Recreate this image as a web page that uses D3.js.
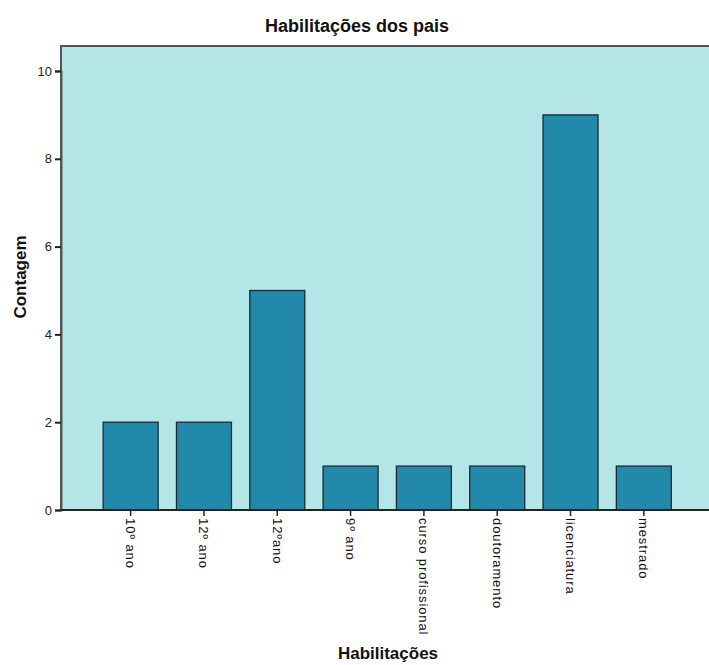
<!DOCTYPE html>
<html><head><meta charset="utf-8">
<script src="https://cdn.jsdelivr.net/npm/d3@7"></script>
<style>body{margin:0;background:#fff}svg{display:block}</style>
</head><body>
<script>
const categories = ["10º ano","12º ano","12ºano","9º ano","curso profissional","doutoramento","licenciatura","mestrado"];
const counts = [2,2,5,1,1,1,9,1];
const yTicks = [0,2,4,6,8,10];
const title = "Habilitações dos pais";
const xTitle = "Habilitações";
const yTitle = "Contagem";

const W = 709, H = 665;
const svg = d3.select("body").append("svg").attr("width", W).attr("height", H)
  .style("font-family","'Liberation Sans', Arial, sans-serif");

const plot = {left: 61, top: 46, right: 712, bottom: 510};
const y = d3.scaleLinear().domain([0,10]).range([510, 71]);
const x = d3.scaleBand().domain(categories).range([94, 680.5]).paddingInner(0.25).paddingOuter(0.125);

svg.append("rect").attr("x", plot.left).attr("y", plot.top)
  .attr("width", plot.right - plot.left).attr("height", plot.bottom - plot.top)
  .attr("fill", "#b5e6e7").attr("stroke", "#555").attr("stroke-width", 2);

svg.append("g").selectAll("rect").data(counts).join("rect")
  .attr("x", (d,i) => x(categories[i]))
  .attr("y", d => y(d))
  .attr("width", x.bandwidth())
  .attr("height", d => y(0) - y(d))
  .attr("fill", "#2389ab").attr("stroke", "#1b2a30").attr("stroke-width", 1.3);

// y axis
const yAxis = svg.append("g").attr("transform", `translate(${plot.left},0)`)
  .call(d3.axisLeft(y).tickValues(yTicks).tickSize(6).tickPadding(3));
yAxis.select(".domain").attr("stroke", "#555").attr("stroke-width", 2);
yAxis.selectAll(".tick line").attr("stroke", "#222").attr("stroke-width", 2);
yAxis.selectAll(".tick text").attr("font-size", 13).attr("fill", "#222").style("font-family","'Liberation Sans', Arial, sans-serif");

// x axis
const xAxis = svg.append("g").attr("transform", `translate(0,${plot.bottom})`)
  .call(d3.axisBottom(x).tickSize(6).tickSizeOuter(0));
xAxis.select(".domain").attr("stroke", "#222").attr("stroke-width", 2).attr("d", `M${plot.left},0H${plot.right}`);
xAxis.selectAll(".tick line").attr("stroke", "#222").attr("stroke-width", 1.5);
xAxis.selectAll(".tick text")
  .attr("font-size", 13).attr("fill", "#111")
  .style("letter-spacing", "0.9px")
  .style("font-family","'Liberation Sans', Arial, sans-serif")
  .attr("text-anchor", "start")
  .attr("dy", "0.35em")
  .attr("transform", "translate(0,2) rotate(90)")
  .attr("x", 6).attr("y", 0);

svg.append("text").attr("x", 357).attr("y", 32).attr("text-anchor", "middle")
  .attr("font-size", 18).attr("font-weight", "bold").attr("fill", "#111").text(title);
svg.append("text").attr("x", 388).attr("y", 659).attr("text-anchor", "middle")
  .attr("font-size", 17).attr("font-weight", "bold").attr("fill", "#111").text(xTitle);
svg.append("text").attr("transform", "translate(26,277) rotate(-90)").attr("text-anchor", "middle")
  .attr("font-size", 17).attr("font-weight", "bold").attr("fill", "#111").text(yTitle);
</script>
</body></html>
